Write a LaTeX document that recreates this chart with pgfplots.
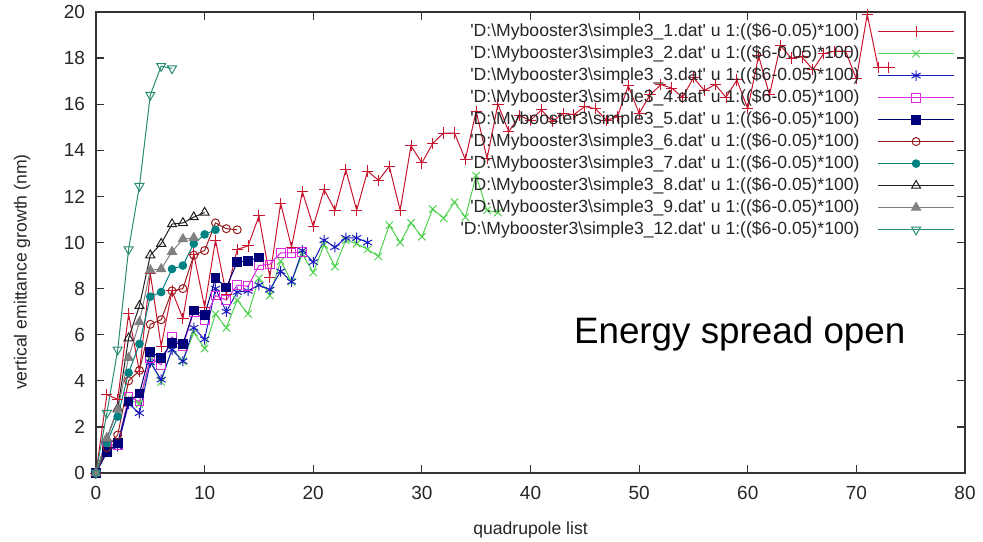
\documentclass[border=0pt]{standalone}
\usepackage{pgfplots}
\pgfplotsset{compat=1.18}
\usepackage{fontspec}
\setmainfont{Liberation Sans}

\definecolor{c1}{RGB}{200,20,45}
\definecolor{c2}{RGB}{80,210,80}
\definecolor{c3}{RGB}{25,25,190}
\definecolor{c4}{RGB}{220,40,220}
\definecolor{c5}{RGB}{0,0,120}
\definecolor{c6}{RGB}{150,30,30}
\definecolor{c7}{RGB}{0,130,130}
\definecolor{c8}{RGB}{30,30,30}
\definecolor{c9}{RGB}{128,128,128}
\definecolor{c10}{RGB}{40,140,115}

\newcommand{\legtxt}[1]{\textquotesingle D:\textbackslash Mybooster3\textbackslash simple3\_#1.dat\textquotesingle{} u 1:((\$6-0.05)*100)}

\begin{document}
\begin{tikzpicture}
\useasboundingbox (-48pt,-34pt) rectangle (443.5pt,236.5pt);
\begin{axis}[
  scale only axis, width=434.5pt, height=230.5pt,
  xmin=0, xmax=80, ymin=0, ymax=20,
  xtick={0,10,...,80}, ytick={0,2,...,20},
  tick align=inside, major tick length=4pt,
  axis line style={black!80, line width=0.7pt},
  every tick/.style={black!80, line width=0.6pt},
  /pgf/number format/assume math mode=true,
  every tick label/.append style={font=\fontsize{9.5}{10}\selectfont, text=black!85},
  xticklabel style={yshift=-3pt},
  yticklabel style={xshift=-2pt},
  xlabel={quadrupole list},
  ylabel={vertical emittance growth (nm)},
  label style={font=\fontsize{8.8}{10}\selectfont, text=black!85},
  xlabel style={at={(axis description cs:0.5,0)}, anchor=center, yshift=-28.5pt},
  ylabel style={at={(axis description cs:-0.0852,0.436)}, anchor=center},
  legend style={draw=none, fill=none, at={(1,1)}, anchor=north east, xshift=-5pt, yshift=-5.5pt,
    font=\fontsize{8.8}{8.8}\selectfont, text=black!85, inner sep=0pt, row sep=2.8pt, column sep=9pt,
    nodes={inner sep=0pt, text height=6.6pt, text depth=1.6pt}},
  legend cell align=right, legend plot pos=right,
  legend image code/.code={\draw[mark repeat=2,mark phase=2,#1] plot coordinates {(0pt,0pt) (19pt,0pt) (38pt,0pt)};},
  every axis plot/.append style={line width=0.5pt, mark size=2.2pt},
]
\addplot[c1, mark=+, mark size=2.8pt] coordinates {
(0,0)(1,3.4)(2,3.2)(3,6.9)(4,4.4)(5,8.65)(6,5.5)(7,7.9)(8,6.7)(9,9.5)(10,7.2)
(11,10.1)(12,7.75)(13,9.7)(14,9.85)(15,11.15)(16,8.5)(17,11.7)(18,9.8)(19,12.2)(20,10.7)
(21,12.3)(22,11.4)(23,13.15)(24,11.4)(25,13.1)(26,12.7)(27,13.3)(28,11.4)(29,14.2)(30,13.45)
(31,14.3)(32,14.75)(33,14.75)(34,13.6)(35,15.7)(36,13.65)(37,16.0)(38,14.8)(39,15.5)(40,15.3)
(41,15.75)(42,15.25)(43,15.6)(44,15.55)(45,15.9)(46,15.8)(47,15.3)(48,15.45)(49,16.8)(50,15.6)
(51,16.4)(52,16.85)(53,16.7)(54,16.3)(55,17.15)(56,16.6)(57,16.85)(58,16.3)(59,17.05)(60,15.8)
(61,18.1)(62,16.4)(63,18.55)(64,18.0)(65,18.05)(66,17.5)(67,18.2)(68,18.3)(69,18.3)(70,17.1)
(71,19.9)(72,17.6)(73,17.6)};
\addlegendentry{\legtxt{1}}
\addplot[c2, mark=x, mark size=2.6pt] coordinates {
(0,0)(1,1.3)(2,1.2)(3,3.2)(4,3.0)(5,4.9)(6,3.95)(7,5.4)(8,4.85)(9,6.1)(10,5.4)
(11,6.9)(12,6.3)(13,7.5)(14,6.9)(15,8.45)(16,7.7)(17,9.2)(18,8.3)(19,9.5)(20,8.7)
(21,9.9)(22,8.95)(23,10.1)(24,9.95)(25,9.7)(26,9.4)(27,10.75)(28,10.0)(29,10.85)(30,10.25)
(31,11.45)(32,11.05)(33,11.75)(34,11.1)(35,12.9)(36,11.4)(37,11.3)};
\addlegendentry{\legtxt{2}}
\addplot[c3, mark=asterisk, mark size=2.6pt] coordinates {
(0,0)(1,1.0)(2,1.15)(3,3.0)(4,2.6)(5,4.8)(6,4.05)(7,5.35)(8,4.85)(9,6.3)(10,5.8)
(11,8.0)(12,7.0)(13,7.85)(14,7.9)(15,8.15)(16,7.95)(17,8.75)(18,8.3)(19,9.65)(20,9.15)
(21,10.1)(22,9.8)(23,10.2)(24,10.2)(25,10.0)};
\addlegendentry{\legtxt{3}}
\addplot[c4, mark=square] coordinates {
(0,0)(1,1.2)(2,1.2)(3,3.3)(4,3.1)(5,5.0)(6,4.7)(7,5.9)(8,5.5)(9,7.0)(10,6.65)
(11,7.7)(12,7.5)(13,8.15)(14,8.1)(15,9.0)(16,9.05)(17,9.55)(18,9.55)(19,9.6)};
\addlegendentry{\legtxt{4}}
\addplot[c5, mark=square*] coordinates {
(0,0)(1,0.9)(2,1.3)(3,3.1)(4,3.45)(5,5.25)(6,5.0)(7,5.65)(8,5.6)(9,7.05)(10,6.85)
(11,8.45)(12,8.05)(13,9.15)(14,9.2)(15,9.35)};
\addlegendentry{\legtxt{5}}
\addplot[c6, mark=o, mark size=2pt] coordinates {
(0,0)(1,1.1)(2,1.65)(3,4.0)(4,4.45)(5,6.45)(6,6.65)(7,7.9)(8,8.0)(9,9.45)(10,9.65)
(11,10.85)(12,10.6)(13,10.55)};
\addlegendentry{\legtxt{6}}
\addplot[c7, mark=*, mark size=1.9pt] coordinates {
(0,0)(1,1.3)(2,2.45)(3,4.35)(4,5.6)(5,7.65)(6,7.85)(7,8.85)(8,9.0)(9,9.95)(10,10.35)(11,10.55)};
\addlegendentry{\legtxt{7}}
\addplot[c8, mark=triangle, mark size=2.6pt] coordinates {
(0,0)(1,1.5)(2,2.8)(3,5.85)(4,7.25)(5,9.45)(6,9.95)(7,10.8)(8,10.85)(9,11.1)(10,11.3)};
\addlegendentry{\legtxt{8}}
\addplot[c9, mark=triangle*, mark size=2.6pt] coordinates {
(0,0)(1,1.5)(2,2.75)(3,5.0)(4,6.55)(5,8.8)(6,8.85)(7,9.6)(8,10.15)(9,10.2)};
\addlegendentry{\legtxt{9}}
\addplot[c10, mark=triangle, mark size=2.6pt, mark options={rotate=180}] coordinates {
(0,0)(1,2.6)(2,5.35)(3,9.7)(4,12.45)(5,16.4)(6,17.65)(7,17.55)};
\addlegendentry{\legtxt{12}}
\node[font=\fontsize{18.4}{20}\selectfont, text=black] at (axis cs:59.26,6.05) {Energy spread open};
\end{axis}
\end{tikzpicture}
\end{document}
